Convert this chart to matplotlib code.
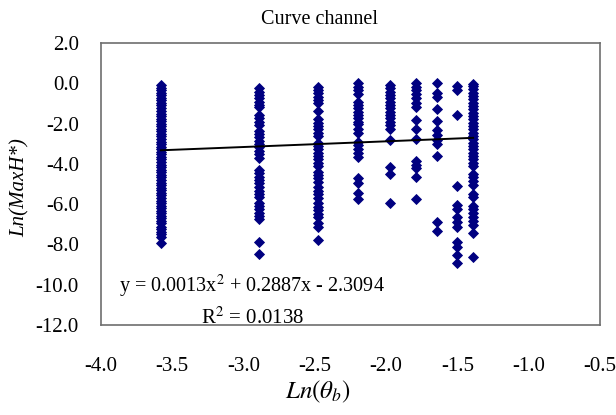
import numpy as np
import matplotlib
matplotlib.use("Agg")
import matplotlib.pyplot as plt

# x positions of the point columns, Ln(theta_b)
x_cols = [-3.58, -2.89, -2.48, -2.20, -1.97, -1.79, -1.64, -1.50, -1.39]

# Ln(MaxH*) values for each column
y_cols = [
    [-0.10, -0.22, -0.35, -0.48, -0.60, -0.73, -0.85, -0.98, -1.10, -1.24, -1.37, -1.50,
     -1.62, -1.75, -1.88, -2.00, -2.13, -2.26, -2.38, -2.51, -2.64, -2.76, -2.90, -3.02,
     -3.15, -3.28, -3.40, -3.53, -3.66, -3.78, -3.91, -4.04, -4.16, -4.29, -4.42, -4.55,
     -4.67, -4.80, -4.93, -5.05, -5.18, -5.31, -5.43, -5.56, -5.69, -5.82, -5.94, -6.07,
     -6.20, -6.32, -6.45, -6.58, -6.70, -6.83, -6.95, -7.12, -7.25, -7.38, -7.50, -7.65,
     -7.95],
    [-0.25, -0.42, -0.58, -0.75, -0.91, -1.08, -1.19, -1.58, -1.74, -1.91, -2.07, -2.35,
     -2.52, -2.65, -2.85, -3.01, -3.18, -3.35, -3.51, -3.73, -4.31, -4.47, -4.64, -4.80,
     -4.97, -5.17, -5.33, -5.50, -5.66, -5.93, -6.09, -6.26, -6.42, -6.59, -6.76, -7.86,
     -8.48],
    [-0.17, -0.33, -0.50, -0.66, -0.83, -0.99, -1.36, -1.79, -1.96, -2.12, -2.29, -2.45,
     -2.62, -2.95, -3.11, -3.28, -3.45, -3.61, -3.78, -3.94, -4.11, -4.39, -4.55, -4.72,
     -4.89, -5.17, -5.33, -5.50, -5.71, -5.93, -6.13, -6.29, -6.49, -6.66, -6.92, -7.12,
     -7.78],
    [-0.00, -0.17, -0.33, -0.53, -0.91, -1.08, -1.24, -1.41, -1.58, -1.74, -1.91, -2.02,
     -2.29, -2.49, -2.90, -3.06, -3.26, -3.45, -3.64, -4.72, -4.93, -5.43, -5.76],
    [-0.09, -0.25, -0.42, -0.58, -0.75, -0.91, -1.08, -1.24, -1.41, -1.58, -1.74, -1.91,
     -2.07, -2.29, -2.82, -4.14, -4.50, -5.93],
    [-0.00, -0.17, -0.33, -0.53, -0.75, -0.96, -1.16, -1.82, -2.29, -2.78, -3.84, -4.06,
     -4.22, -4.67, -5.76],
    [-0.00, -0.50, -0.66, -1.29, -1.86, -2.32, -2.57, -2.82, -3.01, -3.61, -6.87, -7.32],
    [-0.14, -0.33, -1.57, -5.10, -6.04, -6.26, -6.62, -6.87, -7.12, -7.86, -8.11, -8.53,
     -8.94],
    [-0.02, -0.13, -0.30, -0.47, -0.63, -0.80, -0.96, -1.13, -1.29, -1.46, -1.63, -1.79,
     -1.96, -2.12, -2.29, -2.45, -2.62, -2.78, -2.95, -3.11, -3.28, -3.45, -3.61, -3.78,
     -3.94, -4.11, -4.50, -4.67, -4.84, -5.05, -5.50, -5.66, -6.09, -6.26, -6.42, -6.62,
     -6.82, -7.04, -7.42, -8.61],
]

# polynomial trendline coefficients (from chart label)
a2, a1, a0 = 0.0013, 0.2887, -2.3094
r2 = 0.0138

plt.rcParams['font.family'] = ['Liberation Serif', 'DejaVu Serif']
plt.rcParams['mathtext.fontset'] = 'stix'

fig = plt.figure(figsize=(6.16, 4.15), dpi=100)
ax = fig.add_axes([101/616, 1-325/415, 499/616, 282/415])

for xc, ys in zip(x_cols, y_cols):
    ax.plot([xc]*len(ys), ys, linestyle='none', marker='D', markersize=5.0,
            color='#000080', markeredgewidth=0.6, markeredgecolor='#000080')

xt = np.linspace(min(x_cols), max(x_cols), 50)
ax.plot(xt, a2*xt**2 + a1*xt + a0, color='black', linewidth=1.4)

ax.set_xlim(-4.0, -0.5)
ax.set_ylim(-12.0, 2.0)
ax.set_xticks(np.arange(-4.0, -0.49, 0.5))
ax.set_yticks(np.arange(-12.0, 2.01, 2.0))
ax.xaxis.set_major_formatter(matplotlib.ticker.FormatStrFormatter('%.1f'))
ax.yaxis.set_major_formatter(matplotlib.ticker.FormatStrFormatter('%.1f'))
ax.tick_params(axis='both', length=0, labelsize=15)
ax.tick_params(axis='x', pad=23)
ax.tick_params(axis='y', pad=16)
for s in ax.spines.values():
    s.set_color('#6e6e6e')
    s.set_linewidth(1.2)

ax.text(-3.874, -10.1, 'y = %.4fx$^2$ + %.4fx - %.4f' % (a2, a1, -a0),
        fontsize=14.5, va='center', ha='left')
ax.text(-2.934, -11.65, 'R$^2$ = %.4f' % r2, fontsize=15, va='center', ha='center')

fig.text(319/616, 1-19/415, 'Curve channel', fontsize=14.5, ha='center', va='center')
fig.text(318/616, 1-392/415, r'$Ln(\theta_b)$', fontsize=18, ha='center', va='center')
fig.text(20/616, 1-188/415, 'Ln(MaxH*)', fontsize=15, style='italic',
         ha='center', va='center', rotation=90)

fig.savefig('out.png', dpi=100)
